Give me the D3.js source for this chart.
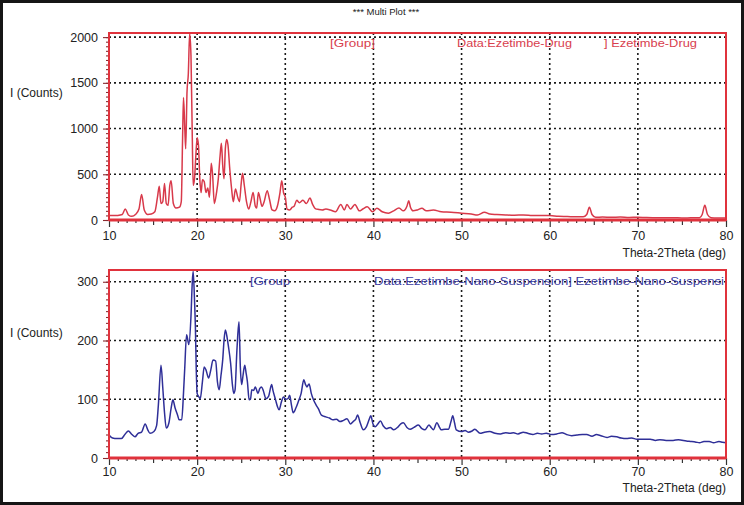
<!DOCTYPE html>
<html><head><meta charset="utf-8">
<script src="https://cdn.jsdelivr.net/npm/d3@7"></script>
<style>
html,body{margin:0;padding:0;background:#fff;}
svg{display:block;font-family:"Liberation Sans",Arial,sans-serif;}
</style></head>
<body>
<svg id="chart" width="744" height="505"></svg>
<script>
// ---------- data ----------
const chartTitle = "***  Multi Plot  ***";
const xLabel = "Theta-2Theta (deg)";
const yLabel = "I (Counts)";
const xTicks = [10, 20, 30, 40, 50, 60, 70, 80];
const drugTicks = [0, 500, 1000, 1500, 2000];
const nanoTicks = [0, 100, 200, 300];
const drugLegend = ["[Group]", "Data:Ezetimbe-Drug", "] Ezetimbe-Drug"];
const nanoLegend = ["[Group", "Data:Ezetimbe-Nano-Suspension] Ezetimbe-Nano-Suspensi"];

// [2theta, counts]
const drugPattern = [[10,50],[10.5,48],[11,50],[11.5,60],[11.85,120],[12.2,55],[12.6,40],[13,60],[13.4,120],[13.7,280],[14.0,110],[14.4,60],[14.8,65],[15.2,90],[15.5,250],[15.7,370],[15.9,180],[16.1,200],[16.3,400],[16.5,180],[16.7,160],[16.9,380],[17.05,430],[17.3,180],[17.6,130],[18.0,140],[18.2,200],[18.35,900],[18.45,1340],[18.6,1000],[18.7,780],[18.85,1400],[19.0,1600],[19.15,2040],[19.3,1800],[19.45,900],[19.55,380],[19.7,450],[19.85,700],[20.0,900],[20.15,820],[20.3,450],[20.45,300],[20.6,440],[20.8,420],[21.0,300],[21.2,350],[21.4,250],[21.6,620],[21.75,500],[21.95,180],[22.2,300],[22.4,450],[22.6,700],[22.75,840],[22.9,600],[23.05,450],[23.2,780],[23.35,880],[23.5,820],[23.7,560],[23.9,350],[24.1,200],[24.35,340],[24.6,250],[24.8,200],[25.0,400],[25.15,510],[25.35,380],[25.6,200],[25.85,120],[26.1,200],[26.35,300],[26.6,150],[26.75,130],[26.95,300],[27.15,230],[27.35,150],[27.6,200],[27.95,320],[28.2,230],[28.5,110],[28.8,100],[29.1,150],[29.4,300],[29.6,430],[29.8,300],[30.0,250],[30.2,120],[30.5,110],[30.8,140],[31.0,150],[31.3,215],[31.6,190],[32.0,215],[32.4,180],[32.8,240],[33.1,170],[33.4,125],[33.8,115],[34.2,110],[34.6,120],[35.1,110],[35.7,90],[36.3,170],[36.7,110],[37.0,170],[37.4,120],[37.9,170],[38.4,100],[38.8,120],[39.3,145],[39.9,90],[40.4,128],[41.0,90],[41.7,75],[42.3,100],[42.9,130],[43.4,100],[43.8,150],[44.0,210],[44.2,140],[44.5,100],[45.0,110],[45.5,128],[46.0,100],[46.8,110],[47.7,90],[48.8,85],[50,75],[51.1,66],[51.8,55],[52.6,85],[53.2,65],[54,60],[55,55],[56,52],[57,55],[58,50],[59,48],[60,50],[61,40],[62,38],[63,35],[63.8,35],[64.2,60],[64.5,140],[64.8,60],[65.2,30],[66,32],[67,30],[68,32],[69,28],[70,30],[71,26],[72,25],[73,24],[74,25],[75,22],[76,24],[77,25],[77.3,60],[77.6,160],[77.9,60],[78.3,25],[79,22],[80,22]];

const nanoPattern = [[10,39],[10.4,34],[10.9,33],[11.4,33],[11.8,40],[12.2,46],[12.6,40],[12.95,36],[13.3,42],[13.7,44],[14.1,58],[14.4,48],[14.65,42],[15.1,45],[15.4,55],[15.6,90],[15.9,158],[16.1,120],[16.3,77],[16.5,51],[16.8,60],[17.05,85],[17.25,99],[17.5,85],[17.8,72],[17.95,65],[18.25,65],[18.45,110],[18.6,155],[18.8,210],[18.95,200],[19.05,193],[19.3,241],[19.45,300],[19.55,318],[19.7,269],[19.8,224],[19.9,150],[20.0,110],[20.2,104],[20.35,101],[20.6,130],[20.8,155],[21.0,150],[21.3,136],[21.55,150],[21.8,167],[22.1,165],[22.3,130],[22.5,116],[22.7,140],[22.9,167],[23.05,200],[23.2,218],[23.4,205],[23.55,190],[23.8,161],[24.0,125],[24.15,110],[24.3,116],[24.5,180],[24.6,207],[24.75,232],[24.9,155],[25.05,125],[25.2,140],[25.4,158],[25.55,145],[25.7,130],[25.9,99],[26.05,100],[26.2,116],[26.4,115],[26.6,121],[26.9,110],[27.1,118],[27.3,121],[27.5,115],[27.8,101],[28.1,105],[28.45,125],[28.6,115],[28.9,99],[29.1,88],[29.3,82],[29.55,95],[29.8,104],[30.05,100],[30.3,101],[30.5,107],[30.7,90],[30.9,77],[31.2,85],[31.5,97],[31.8,110],[32.1,133],[32.3,125],[32.45,121],[32.7,126],[32.95,110],[33.2,99],[33.5,90],[33.75,84],[34.1,73],[34.6,70],[35.0,68],[35.4,65],[35.8,66],[36.2,62],[36.6,64],[37.0,67],[37.4,58],[37.7,62],[38.0,66],[38.2,73],[38.5,60],[38.85,48],[39.2,53],[39.5,65],[39.7,72],[39.95,58],[40.2,53],[40.5,58],[40.8,63],[41.1,55],[41.5,50],[41.9,52],[42.3,48],[42.8,53],[43.1,58],[43.4,60],[43.8,52],[44.15,49],[44.6,52],[45.1,56],[45.5,50],[45.85,48],[46.3,56],[46.55,52],[46.8,48],[47.2,60],[47.5,52],[47.7,48],[48.1,49],[48.5,49],[48.8,62],[49.0,72],[49.2,60],[49.4,48],[50.0,45],[50.4,47],[50.75,44],[51.2,46],[51.5,49],[52.1,42],[52.6,44],[53.2,45],[53.8,42],[54.4,41],[55.0,43],[55.5,42],[55.9,43],[56.4,41],[57.0,44],[57.5,42],[58.1,40],[58.6,42],[59.1,41],[59.6,42],[60.2,40],[60.8,41],[61.4,43],[61.9,40],[62.5,38],[63.1,39],[63.7,40],[64.2,40],[64.8,37],[65.3,40],[65.8,38],[66.5,35],[67.0,37],[67.6,36],[68.1,34],[68.7,33],[69.3,34],[69.9,32],[70.5,32],[71.4,32],[72.0,30],[72.5,31],[73.2,30],[74.0,30],[74.6,31],[75.5,29],[76.1,28],[76.6,27],[77.0,26],[77.5,28],[78.1,28],[78.6,26],[79.2,28],[79.6,27],[80,26]];

// ---------- layout ----------
const svg = d3.select("#chart");
const W = 744, H = 505;
const frameRed = "#e0323c";

svg.append("rect").attr("x",1.5).attr("y",1.5).attr("width",W-3).attr("height",H-3)
  .attr("fill","#fff").attr("stroke","#151515").attr("stroke-width",3);

svg.append("text").attr("x",386).attr("y",15).attr("text-anchor","middle")
  .attr("font-size",9.5).attr("fill","#222").text(chartTitle);

const x = d3.scaleLinear().domain([10,80]).range([109,726]);

function panel(cfg){
  const y = d3.scaleLinear().domain(cfg.yDomain).range([cfg.bottom, cfg.top]);
  const g = svg.append("g");
  const clipId = "clip" + cfg.id;
  svg.append("clipPath").attr("id",clipId).append("rect")
    .attr("x",x.range()[0]).attr("y",cfg.top).attr("width",x.range()[1]-x.range()[0]).attr("height",cfg.bottom-cfg.top);

  // grid
  const grid = g.append("g").attr("stroke","#1a1a1a").attr("stroke-width",1.6).attr("stroke-dasharray","2,3");
  grid.selectAll("line.v").data(xTicks.slice(1,-1)).join("line")
    .attr("x1",d=>x(d)).attr("x2",d=>x(d)).attr("y1",cfg.top).attr("y2",cfg.bottom);
  grid.selectAll("line.h").data(cfg.yTicks.filter(d=>d>0)).join("line")
    .attr("x1",x(10)).attr("x2",x(80)).attr("y1",d=>y(d)).attr("y2",d=>y(d));

  // legend text
  cfg.legend.forEach((t,i)=>{
    g.append("text").attr("x",cfg.legendX[i]).attr("y",cfg.legendY)
      .attr("font-size",11.5).attr("fill",cfg.legendColor)
      .attr("textLength",cfg.legendW[i]).attr("lengthAdjust","spacingAndGlyphs")
      .text(t);
  });

  // line
  const line = d3.line().x(d=>x(d[0])).y(d=>y(d[1])).curve(d3.curveMonotoneX);
  g.append("path").datum(cfg.data).attr("clip-path",`url(#${clipId})`)
    .attr("fill","none").attr("stroke",cfg.color).attr("stroke-width",1.5)
    .attr("stroke-linejoin","round").attr("d",line);

  // x axes (minor / mid / major)
  const xa = g.append("g").attr("transform",`translate(0,${cfg.bottom})`);
  xa.append("g").call(d3.axisBottom(x).tickValues(d3.range(11,80,1).filter(v=>v%5)).tickSize(3).tickFormat(""));
  xa.append("g").call(d3.axisBottom(x).tickValues([15,25,35,45,55,65,75]).tickSize(5).tickFormat(""));
  xa.append("g").call(d3.axisBottom(x).tickValues(xTicks).tickSize(7).tickFormat(d3.format("d")).tickPadding(cfg.xPad));
  xa.selectAll(".domain").remove();
  xa.selectAll("line").attr("stroke","#333").attr("stroke-width",1.2);
  xa.selectAll("text").attr("font-size",12.5).attr("fill","#222");

  // y axes
  const ya = g.append("g").attr("transform",`translate(${x(10)},0)`);
  ya.append("g").call(d3.axisLeft(y).tickValues(d3.range(0,cfg.yDomain[1],cfg.yMinor)).tickSize(3).tickFormat(""));
  ya.append("g").call(d3.axisLeft(y).tickValues(cfg.yTicks).tickSize(6).tickFormat(d3.format("d")).tickPadding(5));
  ya.selectAll(".domain").remove();
  ya.selectAll("line").attr("stroke","#8a2a30").attr("stroke-width",1.1);
  ya.selectAll("text").attr("font-size",12.5).attr("fill","#222");

  // frame
  g.append("rect").attr("x",x(10)).attr("y",cfg.top).attr("width",x(80)-x(10)).attr("height",cfg.bottom-cfg.top)
    .attr("fill","none").attr("stroke",frameRed).attr("stroke-width",2);
  g.append("line").attr("x1",x(10)).attr("x2",x(80)).attr("y1",cfg.bottom).attr("y2",cfg.bottom)
    .attr("stroke",frameRed).attr("stroke-width",3);

  // labels
  g.append("text").attr("x",10).attr("y",cfg.yLabelY).attr("font-size",12).attr("fill","#222").text(yLabel);
  g.append("text").attr("x",726).attr("y",cfg.xLabelY).attr("text-anchor","end").attr("font-size",12).attr("fill","#222").text(xLabel);
}

panel({id:"drug", data:drugPattern, yDomain:[0,2045], top:33, bottom:220, yTicks:drugTicks, yMinor:50,
  color:"#d8394a", legend:drugLegend, legendX:[330,457,604], legendW:[45,115,93], legendY:47, legendColor:"#d8404e",
  xPad:4, yLabelY:97, xLabelY:257});
panel({id:"nano", data:nanoPattern, yDomain:[0,320], top:270, bottom:458, yTicks:nanoTicks, yMinor:10,
  color:"#2f2f98", legend:nanoLegend, legendX:[250,374], legendW:[40,350], legendY:285, legendColor:"#3a3aa0",
  xPad:2, yLabelY:337, xLabelY:492});
</script>
</body></html>
